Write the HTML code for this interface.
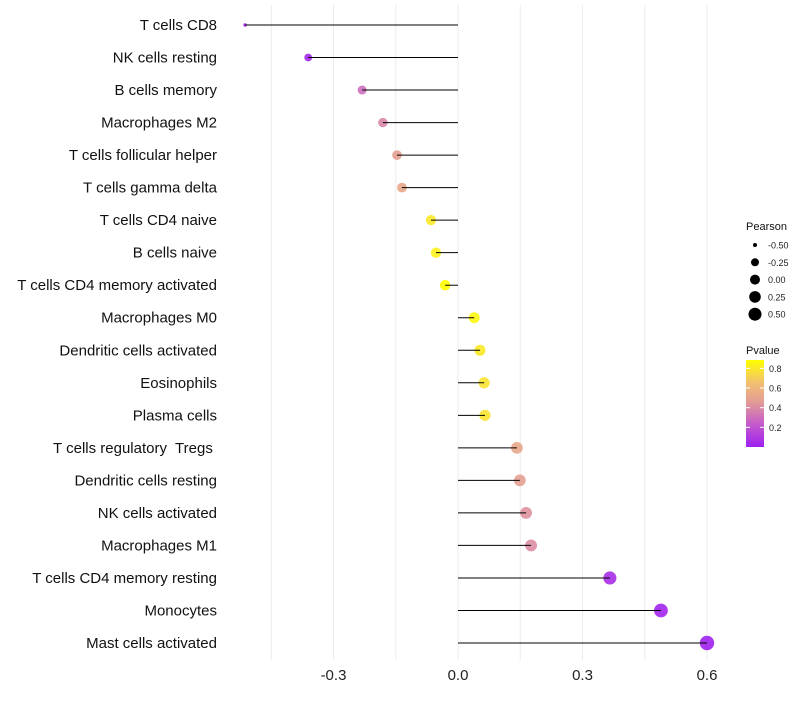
<!DOCTYPE html>
<html><head><meta charset="utf-8"><style>
body{margin:0;background:#fff;font-family:"Liberation Sans",sans-serif;}
svg text{font-family:"Liberation Sans",sans-serif;white-space:pre;}
</style></head><body>
<svg id="chart" width="800" height="700"></svg>
<script>
const categories=["T cells CD8","NK cells resting","B cells memory","Macrophages M2","T cells follicular helper","T cells gamma delta","T cells CD4 naive","B cells naive","T cells CD4 memory activated","Macrophages M0","Dendritic cells activated","Eosinophils","Plasma cells","T cells regulatory  Tregs ","Dendritic cells resting","NK cells activated","Macrophages M1","T cells CD4 memory resting","Monocytes","Mast cells activated"];
const pearson=[-0.513,-0.361,-0.231,-0.181,-0.147,-0.135,-0.065,-0.053,-0.031,0.039,0.053,0.063,0.065,0.142,0.149,0.164,0.176,0.366,0.489,0.6];
const pvalues=[0.01,0.03,0.3,0.38,0.48,0.52,0.8,0.82,0.88,0.85,0.8,0.78,0.78,0.52,0.48,0.42,0.4,0.05,0.02,0.0];
const xTicks=[-0.3,0.0,0.3,0.6];
const xTickLabels=["-0.3","0.0","0.3","0.6"];
const gridVals=[-0.45,-0.3,-0.15,0,0.15,0.3,0.45,0.6];
const sizeLegend=[-0.5,-0.25,0,0.25,0.5];
const sizeLegendLabels=["-0.50","-0.25","0.00","0.25","0.50"];
const pLegend=[0.2,0.4,0.6,0.8];

const NS="http://www.w3.org/2000/svg";
const svg=document.getElementById('chart');
const x=v=>458+v*415;
const y=i=>25+i*(643-25)/(categories.length-1);
const r=v=>v<-0.45?1.8:Math.sqrt(Math.max(3,29+38*v));
const stops=[[0,[160,32,240]],[0.25,[198,96,200]],[0.45,[226,154,150]],[0.65,[242,192,112]],[0.88,[255,255,0]]];
function col(p){p=Math.max(0,Math.min(0.88,p));for(let k=0;k<stops.length-1;k++){const a=stops[k],b=stops[k+1];if(p<=b[0]){const t=(p-a[0])/(b[0]-a[0]);const c=a[1].map((u,j)=>Math.round(u+(b[1][j]-u)*t));return `rgb(${c})`;}}return 'rgb(255,255,0)';}
function el(tag,attrs){const e=document.createElementNS(NS,tag);for(const k in attrs)e.setAttribute(k,attrs[k]);svg.appendChild(e);return e;}

gridVals.forEach(v=>{const g=el('line',{x1:x(v),x2:x(v),y1:5,y2:660,stroke:'#ebebeb','stroke-width':1});

});
xTicks.forEach((v,i)=>{const t=el('text',{x:x(v),y:680,'text-anchor':'middle','font-size':15,fill:'#222'});t.textContent=xTickLabels[i];

});
categories.forEach((c,i)=>{
const t=el('text',{x:217,y:y(i)+5,'text-anchor':'end','font-size':15,fill:'#111'});t.textContent=c;


const d=el('circle',{cx:x(pearson[i]),cy:y(i),r:r(pearson[i]),fill:col(pvalues[i]),'fill-opacity':0.9});


const l=el('line',{x1:x(0),x2:x(pearson[i]),y1:y(i),y2:y(i),stroke:'#000','stroke-width':1});


});
// legends
let t=el('text',{x:746,y:230,'font-size':11,fill:'#111'});t.textContent='Pearson';


const lr=[2,4,5,5.8,6.5];
sizeLegend.forEach((v,i)=>{const cy=245+i*17.3;
const c=el('circle',{cx:755,cy:cy,r:lr[i],fill:'#000'});


const s=el('text',{x:768,y:cy+3.5,'font-size':9,fill:'#222'});s.textContent=sizeLegendLabels[i];

});
t=el('text',{x:746,y:354,'font-size':11,fill:'#111'});t.textContent='Pvalue';


const defs=el('defs',{});const lg=document.createElementNS(NS,'linearGradient');lg.setAttribute('id','pg');lg.setAttribute('x1',0);lg.setAttribute('y1',1);lg.setAttribute('x2',0);lg.setAttribute('y2',0);defs.appendChild(lg);
stops.forEach(s=>{const st=document.createElementNS(NS,'stop');st.setAttribute('offset',s[0]/0.88);st.setAttribute('stop-color',`rgb(${s[1]})`);lg.appendChild(st);});
const bar=el('rect',{x:746,y:360,width:18,height:87,fill:'url(#pg)'});


const py=p=>447-p*98.3;
pLegend.forEach(p=>{el('line',{x1:746,x2:750,y1:py(p),y2:py(p),stroke:'#fff'});el('line',{x1:760,x2:764,y1:py(p),y2:py(p),stroke:'#fff'});
const s=el('text',{x:769,y:py(p)+3.5,'font-size':9,fill:'#222'});s.textContent=p.toFixed(1);

});
</script>
</body></html>
